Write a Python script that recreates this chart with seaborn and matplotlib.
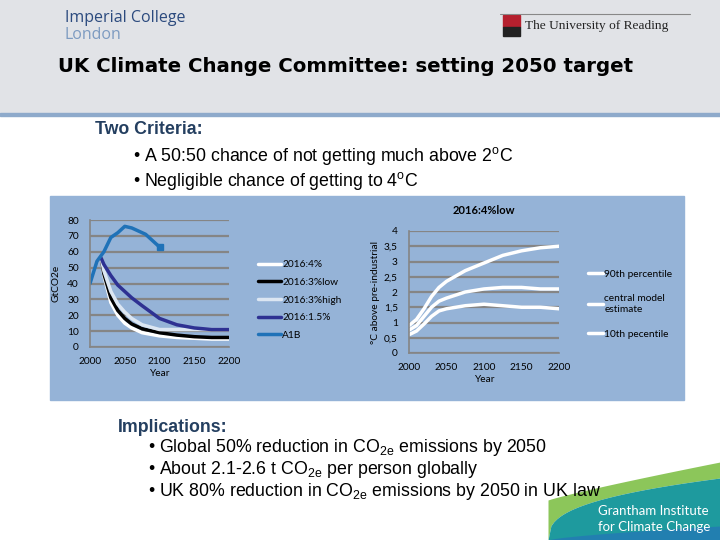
import numpy as np
import pandas as pd
import matplotlib
matplotlib.use("Agg")
import matplotlib.pyplot as plt
from matplotlib.patches import Rectangle
import seaborn as sns

# emissions chart (GtCO2e)
a1b_years = [2000, 2010, 2020, 2030, 2040, 2050, 2060, 2070, 2080, 2090, 2100]
a1b = [40, 54, 60, 69, 72, 76, 75, 73, 71, 67, 63]

cut_years = [2016, 2020, 2030, 2040, 2050, 2060, 2075, 2100, 2125, 2150, 2175, 2200]
cut_4 = [56, 45, 28, 20, 15, 12, 9, 7, 6, 5.5, 5, 5]
cut_3low = [56, 46, 31, 23, 18, 14.5, 11.5, 9, 7.5, 6.5, 6, 6]
cut_3high = [56, 48, 35, 27, 22, 18, 14, 11, 11, 11, 11, 11]
cut_15 = [56, 52, 45, 39, 35, 31, 26, 18, 14, 12, 11, 11]

# temperature chart (deg C above pre-industrial), 2016:4%low
temp_years = [2000, 2010, 2020, 2030, 2040, 2050, 2075, 2100, 2125, 2150, 2175, 2200]
p90 = [0.9, 1.1, 1.45, 1.85, 2.15, 2.35, 2.7, 2.95, 3.2, 3.35, 3.45, 3.5]
central = [0.75, 0.9, 1.2, 1.5, 1.7, 1.8, 2.0, 2.1, 2.15, 2.15, 2.1, 2.1]
p10 = [0.6, 0.72, 0.95, 1.2, 1.38, 1.45, 1.55, 1.6, 1.55, 1.5, 1.5, 1.45]

sns.set_style("white")
plt.rcParams["font.family"] = ["Liberation Sans", "DejaVu Sans"]
plt.rcParams["mathtext.fontset"] = "custom"
plt.rcParams["mathtext.rm"] = "Liberation Sans"
plt.rcParams["text.color"] = "black"
plt.rcParams["axes.labelcolor"] = "black"
plt.rcParams["xtick.labelcolor"] = "black"
plt.rcParams["ytick.labelcolor"] = "black"

W, H = 720, 540
fig = plt.figure(figsize=(7.2, 5.4), dpi=100)

# slide background
bg = fig.add_axes([0, 0, 1, 1], zorder=0)
bg.set_xlim(0, W)
bg.set_ylim(H, 0)
bg.axis("off")
bg.add_patch(Rectangle((0, 0), W, 113, color="#e1e3e7"))
bg.add_patch(Rectangle((0, 113), W, 3, color="#8eaacb"))
bg.add_patch(Rectangle((50, 196), 634, 204, color="#95b3d7"))

# Grantham swoosh
xs = np.linspace(548, 720, 60)
t = (xs - 548) / 172
green_top = 500 - 38 * t ** 0.9
teal_top = 540 - 62 * t ** 0.36
bg.fill_between(xs, green_top, teal_top, color="#8cc65a", lw=0)
bg.fill_between(xs, teal_top, H, color="#1e9a9e", lw=0)
bg.fill_between(xs, 540 - 14 * t ** 0.7, H, color="#2479b5", lw=0, alpha=0.8)
bg.text(598, 511, "Grantham Institute", color="white", fontsize=9.5,
        family="Lato", va="center")
bg.text(598, 527, "for Climate Change", color="white", fontsize=9.5,
        family="Lato", va="center")

# logos as text
bg.text(65, 18, "Imperial College", color="#2b4a7e", fontsize=11.5,
        family="Open Sans", va="center")
bg.text(65, 35, "London", color="#7d9bc1", fontsize=11.5,
        family="Open Sans", va="center")
bg.add_patch(Rectangle((503, 15), 17, 12, color="#b5202e"))
bg.add_patch(Rectangle((503, 27), 17, 9, color="#222222"))
bg.plot([500, 690], [14, 14], color="#888888", lw=0.8)
bg.text(525, 26, "The University of Reading", family="Liberation Serif",
        fontsize=9.6, va="center", color="#222222")

bg.text(346, 67, "UK Climate Change Committee: setting 2050 target",
        family="DejaVu Sans", weight="bold", fontsize=14.2, ha="center",
        va="center", color="black")

navy = "#243f60"
bg.text(95, 130, "Two Criteria:", weight="bold", color=navy, fontsize=12.8,
        va="center")
bg.text(133, 156, "\u2022 A 50:50 chance of not getting much above 2$^{\\mathrm{o}}$C",
        fontsize=12.8, va="center")
bg.text(133, 181, "\u2022 Negligible chance of getting to 4$^{\\mathrm{o}}$C",
        fontsize=12.8, va="center")

bg.text(118, 427, "Implications:", weight="bold", color=navy, fontsize=12.8,
        va="center")
bullets = [
    "\u2022 Global 50% reduction in CO$_{\\mathrm{2e}}$ emissions by 2050",
    "\u2022 About 2.1-2.6 t CO$_{\\mathrm{2e}}$ per person globally",
    "\u2022 UK 80% reduction in CO$_{\\mathrm{2e}}$ emissions by 2050 in UK law",
]
for yy, txt in zip([448, 470, 491], bullets):
    bg.text(148, yy, txt, fontsize=12.8, va="center")


def style_axes(ax, ymax, step, ticklabels):
    ax.set_facecolor("none")
    ax.set_xlim(2000, 2200)
    ax.set_ylim(0, ymax)
    ax.set_xticks([2000, 2050, 2100, 2150, 2200])
    ax.set_yticks(np.arange(0, ymax + step / 2, step))
    ax.set_yticklabels(ticklabels)
    for tl in ax.get_xticklabels() + ax.get_yticklabels():
        tl.set_family("Lato")
        tl.set_fontsize(7.3)
    ax.grid(axis="y", color="#858585", lw=1.6)
    ax.grid(axis="x", visible=False)
    for s in ["top", "right"]:
        ax.spines[s].set_visible(False)
    for s in ["left", "bottom"]:
        ax.spines[s].set_color("#858585")
        ax.spines[s].set_linewidth(1.2)
    ax.tick_params(axis="x", length=3, color="#858585", pad=4)
    ax.tick_params(axis="y", length=0, pad=8)
    ax.set_xlabel("Year", family="Lato", fontsize=7.3, labelpad=2)


# left: emissions pathways
ax1 = fig.add_axes([90 / W, 1 - 347 / H, 139 / W, 127 / H], zorder=2)
cuts = pd.DataFrame({"year": cut_years, "2016:4%": cut_4, "2016:3%low": cut_3low,
                     "2016:3%high": cut_3high, "2016:1.5%": cut_15})
series = [("2016:4%", "white"), ("2016:3%low", "black"),
          ("2016:3%high", "#dce6f2"), ("2016:1.5%", "#2e3192")]
for name, col in series:
    sns.lineplot(data=cuts, x="year", y=name, color=col, lw=2.5, ax=ax1,
                 label=name)
a1b_df = pd.DataFrame({"year": a1b_years, "A1B": a1b})
sns.lineplot(data=a1b_df, x="year", y="A1B", color="#1f72b8", lw=2.5, ax=ax1,
             label="A1B")
ax1.plot(a1b_years[-1], a1b[-1], marker="s", ms=5, color="#1f72b8")
style_axes(ax1, 80, 10, [str(v) for v in range(0, 81, 10)])
ax1.set_ylabel("GtCO2e", family="Lato", fontsize=7.3, labelpad=5)
ax1.legend(loc="center left", bbox_to_anchor=(253 / W, 1 - 300 / H),
           bbox_transform=fig.transFigure, frameon=False, borderpad=0,
           handlelength=2.3, handletextpad=0.1, labelspacing=0.85,
           prop={"family": "Lato", "size": 7.3})

# right: temperature ranges
ax2 = fig.add_axes([409 / W, 1 - 353 / H, 150 / W, 122 / H], zorder=2)
temps = pd.DataFrame({"year": temp_years, "90th percentile": p90,
                      "central model\nestimate": central,
                      "10th pecentile": p10})
for name in ["90th percentile", "central model\nestimate", "10th pecentile"]:
    sns.lineplot(data=temps, x="year", y=name, color="white", lw=2.5, ax=ax2,
                 label=name)
style_axes(ax2, 4, 0.5, ["0", "0,5", "1", "1,5", "2", "2,5", "3", "3,5", "4"])
ax2.set_ylabel("°C above pre-industrial", family="Lato", fontsize=7.3,
               labelpad=3)
ax2.set_title("2016:4%low", family="Lato", weight="bold", fontsize=8, pad=12)
ax2.legend(loc="center left", bbox_to_anchor=(583 / W, 1 - 304 / H),
           bbox_transform=fig.transFigure, frameon=False, borderpad=0,
           handlelength=1.5, handletextpad=0.1, labelspacing=1.55,
           prop={"family": "Lato", "size": 7.3})

fig.savefig("out.png", dpi=100)
